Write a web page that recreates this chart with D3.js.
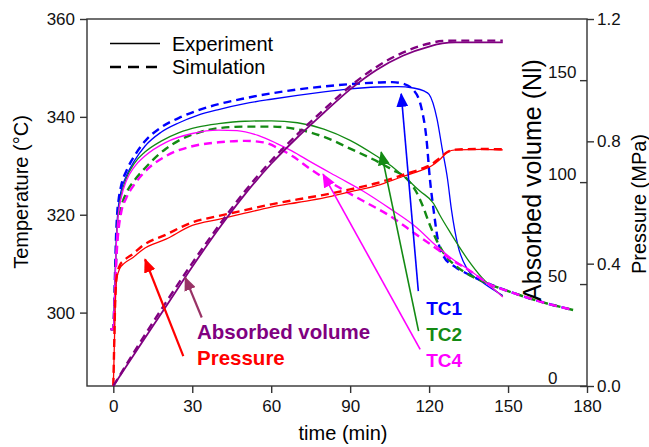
<!DOCTYPE html>
<html>
<head>
<meta charset="utf-8">
<title>Temperature, pressure and absorbed volume</title>
<script src="https://cdn.jsdelivr.net/npm/d3@7"></script>
<style>
    body { margin: 0; background: #fff; }
    svg text { font-family: "Liberation Sans", Arial, sans-serif; }
    .axis path, .axis line { stroke: #333; stroke-width: 1.4; }
    .axis text { font-size: 17px; fill: #111; }
</style>
</head>
<body>
<svg id="chart" width="649" height="447"></svg>
<script>
// ---- data: [time (min), value] ----
var tc1Exp = [[-1,296.6],[0,296.6],[0.5,304],[1,313],[1.5,319],[2,322],[3,325],[5,328],[8,331],[12,334],[18,336.8],[25,338.8],[32,340.3],[40,341.5],[50,342.7],[60,343.6],[70,344.4],[80,345.1],[90,345.7],[100,346.1],[108,346.2],[114,345.9],[118,345.3],[120,344.6],[123,339.6],[125,333.4],[127,327.3],[128.5,321],[131,313.6],[134.5,308.9],[140,306.3],[148,303.5]];
var tc1Sim = [[-1,296.6],[0,296.6],[0.5,305],[1,315],[1.5,320.5],[2,323],[3,326],[5,329],[8,332],[12,335],[18,337.8],[25,339.8],[32,341.3],[40,342.6],[50,343.8],[60,344.8],[70,345.6],[80,346.2],[90,346.7],[100,347],[106,347.1],[110,346.8],[114,345.5],[117,342],[119,335.5],[120.3,327.3],[121.7,321],[123.5,314.4],[125.5,311.5],[130,309.3],[135,307.8],[143,305.8],[150,304.4],[160,302.6],[175,300.5]];
var tc2Exp = [[-1,296.6],[0,296.6],[0.5,303.5],[1,312],[1.5,318],[2,321],[3,324],[5,327.5],[8,330.5],[12,332.8],[18,335],[25,336.8],[32,337.9],[40,338.6],[50,339.1],[60,339.2],[70,338.8],[80,337.5],[90,335.2],[100,332],[105,330.2],[110,328],[116.6,324.8],[121.7,322.3],[124,320],[128,316.4],[134.5,311],[140,307.2],[148,303.3]];
var tc2Sim = [[-1,296.6],[0,296.6],[0.5,303],[1,310],[1.5,315.5],[2,318.5],[3,321.5],[5,324.5],[8,327],[12,329.5],[20,333.5],[25,335.2],[33,336.9],[40,337.7],[50,338],[60,338],[66,337.8],[75,336.8],[82,335.5],[90,333.5],[101,330.7],[106,329.2],[111.6,327.3],[115,324.8],[117.8,321.5],[120,318.3],[123,314.6],[126,311.8],[130,309.6],[135,307.8],[143,305.8],[150,304.4],[160,302.6],[175,300.5]];
var tc4Exp = [[-1,296.6],[0,296.6],[0.5,303.5],[1,312],[1.5,317.5],[2,320.5],[3,323.5],[5,327],[8,329.8],[12,332],[20,334.8],[30,336.6],[40,337.3],[47,337.2],[55,336.2],[62,334.6],[68,333],[75,330.8],[86,327.5],[95,324.8],[105,321.3],[115,317.5],[123,313.5],[130,310.5],[135,308.8],[140,306.8],[148,303.2]];
var tc4Sim = [[-1,296.6],[0,296.6],[0.5,302.5],[1,309],[1.5,314],[2,317],[3,320.5],[5,323.5],[8,326.2],[12,328.8],[20,332],[30,334],[40,334.8],[50,335.1],[57,334.8],[63,333.5],[68,332],[75,329.3],[86,325.5],[95,322.8],[105,319.8],[115,316],[123,313],[128,311],[134.5,308.9],[143,305.8],[150,304.4],[160,302.6],[175,300.5]];
var pressExp = [[0,0],[0.3,0.1],[0.7,0.25],[1.3,0.35],[2.5,0.385],[4,0.4],[7.5,0.42],[11,0.445],[20,0.48],[30,0.525],[40,0.545],[50,0.565],[60,0.585],[70,0.6],[80,0.615],[90,0.635],[100,0.655],[110,0.685],[117,0.705],[121,0.72],[124,0.74],[127,0.765],[130,0.772],[140,0.774],[148,0.772]];
var pressSim = [[0,0],[0.3,0.12],[0.7,0.27],[1.3,0.36],[2.5,0.395],[4,0.41],[7.5,0.432],[11,0.458],[20,0.495],[30,0.535],[40,0.556],[50,0.575],[60,0.594],[70,0.61],[80,0.625],[90,0.643],[100,0.663],[110,0.69],[117,0.71],[121,0.725],[124,0.745],[127,0.765],[130,0.773],[140,0.775],[148,0.774]];
var volExp = [[0,0],[10,19.6],[20,39],[30,58.5],[40,77],[50,94],[60,109],[70,122],[80,134],[90,145.5],[100,155],[110,162],[120,166.5],[125,168],[130,168.5],[148,168.5]];
var volSim = [[0,0],[10,21],[20,41],[30,60.3],[40,78.5],[50,95.5],[60,110.5],[70,123.5],[80,135.5],[90,147],[100,156.5],[110,163.5],[120,168],[125,169.2],[130,169.4],[148,169.4]];

// tick values
var timeTicks = [0, 30, 60, 90, 120, 150, 180];
var tempTicks = [300, 320, 340, 360];
var volTicks = [0, 50, 100, 150];
var pressTicks = [0, 0.4, 0.8, 1.2];

// annotations: [label, color, text pos (t, T), arrow tail (t, T), arrow tip (t, T)]
var notes = [
    ["TC1", "#0000ff", [118.9, 299.6], [115.9, 304.4], [109.4, 344.7]],
    ["TC2", "#138a13", [118.9, 294.2], [116.0, 296.2], [101.8, 332.8]],
    ["TC4", "#ff00ff", [118.9, 288.8], [116.6, 292.5], [79.7, 328.3]],
    ["Absorbed volume", "#800080", [31.8, 294.7], null, null],
    ["Pressure", "#ff0000", [31.8, 289.2], null, null]
];
var extraArrows = [
    ["#993366", [33.6, 299.0], [27.3, 307.2]],
    ["#ff0000", [26.6, 291.1], [12.05, 310.9]]
];

var svg = d3.select("#chart");
var plotL = 87, plotR = 587, plotT = 19, plotB = 386;

var x = d3.scaleLinear().domain([-10, 180]).range([plotL, plotR]);
var yT = d3.scaleLinear().domain([285, 360]).range([plotB, plotT]);
var yV = d3.scaleLinear().domain([0, 180]).range([plotB, plotT]);
var yP = d3.scaleLinear().domain([0, 1.2]).range([plotB, plotT]);

function lineFor(y) {
    return d3.line()
        .x(function (d) { return x(d[0]); })
        .y(function (d) { return y(d[1]); })
        .curve(d3.curveMonotoneX);
}

// arrow heads
var defs = svg.append("defs");
function marker(color) {
    var id = "m" + color.replace("#", "");
    if (defs.select("#" + id).empty()) {
        defs.append("marker")
            .attr("id", id)
            .attr("markerUnits", "userSpaceOnUse")
            .attr("markerWidth", 14).attr("markerHeight", 12)
            .attr("refX", 13).attr("refY", 6)
            .attr("orient", "auto")
            .append("path").attr("d", "M0,0L14,6L0,12Z").attr("fill", color);
    }
    return "url(#" + id + ")";
}

// frame
svg.append("rect")
    .attr("x", plotL).attr("y", plotT)
    .attr("width", plotR - plotL).attr("height", plotB - plotT)
    .attr("fill", "none").attr("stroke", "#333").attr("stroke-width", 1.4);

// curves
var series = [
    [tc1Exp, yT, "#0000ff", false], [tc1Sim, yT, "#0000ff", true],
    [tc2Exp, yT, "#138a13", false], [tc2Sim, yT, "#138a13", true],
    [tc4Exp, yT, "#ff00ff", false], [tc4Sim, yT, "#ff00ff", true],
    [pressExp, yP, "#ff0000", false], [pressSim, yP, "#ff0000", true],
    [volExp, yV, "#800080", false], [volSim, yV, "#800080", true]
];
series.forEach(function (s) {
    svg.append("path")
        .datum(s[0])
        .attr("d", lineFor(s[1]))
        .attr("fill", "none")
        .attr("stroke", s[2])
        .attr("stroke-width", s[3] ? 2.4 : (s[2] == "#800080" ? 1.8 : 1.3))
        .attr("stroke-dasharray", s[3] ? "8,5" : null);
});

// axes
svg.append("g").attr("class", "axis")
    .attr("transform", "translate(0," + plotB + ")")
    .call(d3.axisBottom(x).tickValues(timeTicks).tickSize(7).tickPadding(7))
    .select(".domain").remove();

svg.append("g").attr("class", "axis")
    .attr("transform", "translate(" + plotL + ",0)")
    .call(d3.axisLeft(yT).tickValues(tempTicks).tickSize(7).tickPadding(5))
    .select(".domain").remove();

svg.append("g").attr("class", "axis")
    .attr("transform", "translate(" + plotR + ",0)")
    .call(d3.axisRight(yP).tickValues(pressTicks).tickFormat(d3.format(".1f")).tickSize(7).tickPadding(3))
    .select(".domain").remove();

var volAxis = svg.append("g").attr("class", "axis")
    .attr("transform", "translate(" + plotR + ",0)")
    .call(d3.axisLeft(yV).tickValues(volTicks).tickSize(7));
volAxis.select(".domain").remove();
volAxis.selectAll("text")
    .attr("x", -39).attr("dy", -2.5).attr("text-anchor", "start");

// axis titles
svg.append("text").attr("x", 343).attr("y", 440)
    .attr("text-anchor", "middle").attr("font-size", 20).text("time (min)");
svg.append("text").attr("transform", "translate(28,192) rotate(-90)")
    .attr("text-anchor", "middle").attr("font-size", 20).text("Temperature (°C)");
svg.append("text").attr("transform", "translate(541,180) rotate(-90)")
    .attr("text-anchor", "middle").attr("font-size", 25).text("Absorbed volume (Nl)");
svg.append("text").attr("transform", "translate(646,204) rotate(-90)")
    .attr("text-anchor", "middle").attr("font-size", 20).text("Pressure (MPa)");

// legend
svg.append("line").attr("x1", 110).attr("x2", 160).attr("y1", 43.5).attr("y2", 43.5)
    .attr("stroke", "#000").attr("stroke-width", 1.3);
svg.append("line").attr("x1", 110).attr("x2", 157).attr("y1", 67).attr("y2", 67)
    .attr("stroke", "#000").attr("stroke-width", 2.4).attr("stroke-dasharray", "11,7");
svg.append("text").attr("x", 172).attr("y", 50.5).attr("font-size", 20).text("Experiment");
svg.append("text").attr("x", 172).attr("y", 74).attr("font-size", 20).text("Simulation");

// annotations
notes.forEach(function (n) {
    var big = n[0].length > 3;
    svg.append("text")
        .attr("x", x(n[2][0])).attr("y", yT(n[2][1]))
        .attr("font-size", big ? 20.5 : 19).attr("font-weight", "bold")
        .attr("fill", n[1]).text(n[0]);
    if (n[3]) {
        svg.append("line")
            .attr("x1", x(n[3][0])).attr("y1", yT(n[3][1]))
            .attr("x2", x(n[4][0])).attr("y2", yT(n[4][1]))
            .attr("stroke", n[1]).attr("stroke-width", 1.6)
            .attr("marker-end", marker(n[1]));
    }
});
extraArrows.forEach(function (a) {
    svg.append("line")
        .attr("x1", x(a[1][0])).attr("y1", yT(a[1][1]))
        .attr("x2", x(a[2][0])).attr("y2", yT(a[2][1]))
        .attr("stroke", a[0]).attr("stroke-width", 2.2)
        .attr("marker-end", marker(a[0]));
});
</script>
</body>
</html>
